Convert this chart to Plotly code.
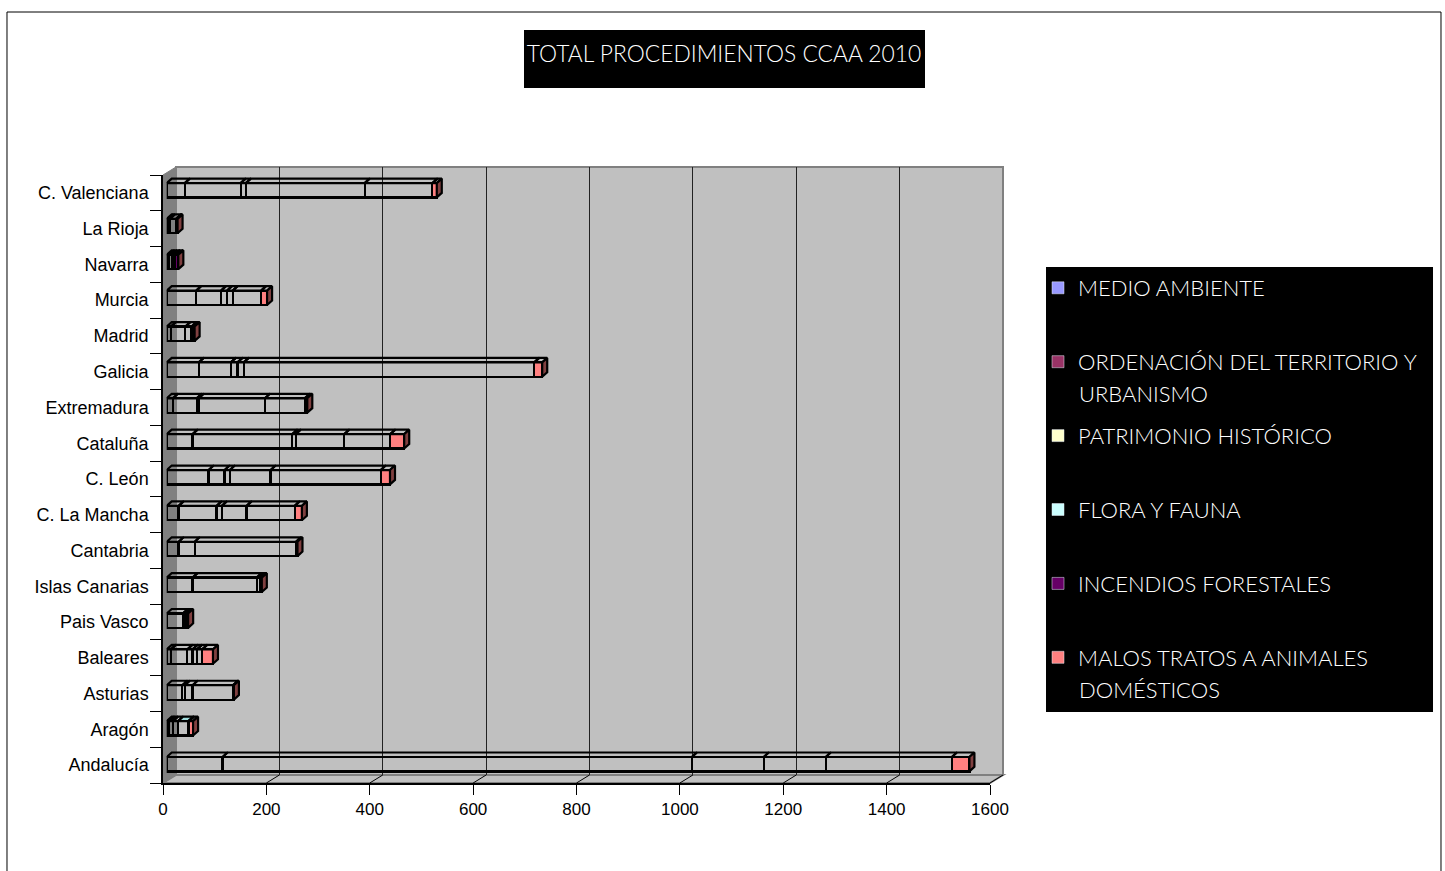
import plotly.graph_objects as go

CATEGORIES = ["Andalucía", "Aragón", "Asturias", "Baleares", "Pais Vasco", "Islas Canarias", "Cantabria",
              "C. La Mancha", "C. León", "Cataluña", "Extremadura", "Galicia", "Madrid", "Murcia",
              "Navarra", "La Rioja", "C. Valenciana"]
SERIES_NAMES = ["MEDIO AMBIENTE", "ORDENACIÓN DEL TERRITORIO Y", "PATRIMONIO HISTÓRICO",
                "FLORA Y FAUNA", "INCENDIOS FORESTALES", "MALOS TRATOS A ANIMALES"]
LEGEND_COLORS = ["#9999FF", "#993366", "#FFFFCC", "#CCFFFF", "#660066", "#FF8080"]
MEDIO_AMBIENTE = [108, 5, 30, 8, 31, 50, 23, 23, 81, 50, 12, 62, 8, 57, 5, 3, 35]
ORDENACION = [908, 7, 5, 32, 2.5, 124, 31, 73.5, 31, 193, 46, 62, 28, 48, 5, 3, 108]
PATRIMONIO = [139, 10, 15, 10, 4, 0, 0, 10, 10, 6.5, 4, 13, 12, 11.6, 5, 12, 10]
FLORA = [120, 20, 78, 8.5, 2, 0, 0, 48, 79, 94, 128, 12, 2, 11, 0.5, 1, 230]
INCENDIOS = [244, 1, 1, 10, 1, 6, 196, 93, 213, 89, 77, 562, 3, 55, 6, 1, 131]
MALOS_TRATOS = [34, 8, 1, 21, 1, 4, 3, 14, 18, 27, 5, 15.5, 1, 11.6, 1, 1, 8.5]
SERIES = [MEDIO_AMBIENTE, ORDENACION, PATRIMONIO, FLORA, INCENDIOS, MALOS_TRATOS]
X_TICKS = [0, 200, 400, 600, 800, 1000, 1200, 1400, 1600]

W, H = 1445, 871
CLEAR = "rgba(0,0,0,0)"
PINK = "#FF8080"
SIDE = "#804040"
TEXT_FONT = "Lato Light, Lato, sans-serif"
AXIS_FONT = "Liberation Sans, Arial, sans-serif"
BAR_LINE = dict(color="black", width=2.2)
def px(x): return x / W
def py(y): return 1 - y / H

fig = go.Figure()
POS = list(range(len(CATEGORIES)))
totals = [sum(s[i] for s in SERIES) for i in POS]

# front-plane axes carry the tick labels
fig.add_trace(go.Scatter(x=totals, y=CATEGORIES, mode="none", xaxis="x", yaxis="y",
                         showlegend=False, hoverinfo="skip"))
# legend-only entries on the back-wall axes (these also make the grid appear)
for k, (name, col) in enumerate(zip(SERIES_NAMES, LEGEND_COLORS)):
    fig.add_trace(go.Bar(x=[None], y=[None], orientation="h", name=name, xaxis="x2", yaxis="y2",
                         marker=dict(color=col), legendgroup=str(k), hoverinfo="skip"))

# front faces of the 3-D bars
DX, DY = 9.7, 0.125   # depth of a bar in axis units
HALF = 0.2
base = [0.0] * len(POS)
for k, vals in enumerate(SERIES):
    if k == 5:
        fills = [PINK] * len(POS)
    elif k == 4:
        fills = ["#660066" if c == "Navarra" else CLEAR for c in CATEGORIES]
    else:
        fills = [CLEAR] * len(POS)
    fig.add_trace(go.Bar(x=vals, y=POS, orientation="h", xaxis="x3", yaxis="y3", showlegend=False,
                         marker=dict(color=fills, line=BAR_LINE), name=SERIES_NAMES[k]))
    xs, ys, cx, cy = [], [], [], []
    for i in POS:
        a, b = base[i], base[i] + vals[i]
        if vals[i] > 0:
            poly_x = [a, b, b + DX, a + DX, a, None]
            poly_y = [i + HALF, i + HALF, i + HALF + DY, i + HALF + DY, i + HALF, None]
            if k == 3 and CATEGORIES[i] == "Aragón":
                cx += poly_x; cy += poly_y
            else:
                xs += poly_x; ys += poly_y
        base[i] = b
    fig.add_trace(go.Scatter(x=xs, y=ys, xaxis="x3", yaxis="y3", mode="lines", fill="toself", fillcolor=CLEAR,
                             line=BAR_LINE, showlegend=False, hoverinfo="skip"))
    if cx:
        fig.add_trace(go.Scatter(x=cx, y=cy, xaxis="x3", yaxis="y3", mode="lines", fill="toself",
                                 fillcolor="#A0DCDC", line=BAR_LINE, showlegend=False, hoverinfo="skip"))
# end faces
sx, sy = [], []
for i in POS:
    e = base[i]
    sx += [e, e + DX, e + DX, e, e, None]
    sy += [i - HALF, i - HALF + DY, i + HALF + DY, i + HALF, i - HALF, None]
fig.add_trace(go.Scatter(x=sx, y=sy, xaxis="x3", yaxis="y3", mode="lines", fill="toself", fillcolor=SIDE,
                         line=BAR_LINE, showlegend=False, hoverinfo="skip"))

def poly(points, fill, line=None, width=0):
    path = "M" + "L".join(f"{px(x):.5f},{py(y):.5f}" for x, y in points) + "Z"
    return dict(type="path", path=path, xref="paper", yref="paper", fillcolor=fill, layer="below",
                line=dict(color=line or fill, width=width))

FX0, FX1, FY0, FY1 = 163, 990, 175, 783     # front plane
BX0, BX1, BY0, BY1 = 176, 1003, 167, 775    # back plane
shapes = [
    poly([(7, 880), (7, 12), (1441, 12), (1441, 880)], "white", "black", 1),
    poly([(BX0, BY0), (BX1, BY0), (BX1, BY1), (BX0, BY1)], "#C0C0C0", "#808080", 2),
    poly([(FX0, FY1), (BX0, BY1), (BX1, BY1), (FX1, FY1)], "#C0C0C0", "#808080", 2),
    poly([(FX0, FY0), (BX0, BY0), (BX0, BY1), (FX0, FY1)], "#808080", "#808080", 1),
    poly([(524, 30), (925, 30), (925, 88), (524, 88)], "black"),
    poly([(1046, 267), (1433, 267), (1433, 712), (1046, 712)], "black"),
]
for t in X_TICKS[1:]:
    x = FX0 + (FX1 - FX0) * t / 1600
    shapes.append(dict(type="line", xref="paper", yref="paper", layer="below", x0=px(x), y0=py(FY1),
                       x1=px(x + BX0 - FX0), y1=py(BY1), line=dict(color="black", width=1)))

LEGEND_FONT = dict(family=TEXT_FONT, size=22, color="white", weight=300)
SECOND_LINES = [("URBANISMO", 393), ("DOMÉSTICOS", 689)]
annotations = [dict(text=t, xref="paper", yref="paper", x=px(1078), y=py(y), xanchor="left", yanchor="middle",
                    showarrow=False, font=LEGEND_FONT, borderpad=0) for t, y in SECOND_LINES]

hidden = dict(visible=False, fixedrange=True)
fig.update_layout(
    width=W, height=H, autosize=False, margin=dict(l=0, r=0, t=0, b=0, pad=0, autoexpand=False),
    paper_bgcolor="white", plot_bgcolor="rgba(0,0,0,0)", barmode="stack", bargap=0.596,
    shapes=shapes, annotations=annotations,
    title=dict(text="TOTAL PROCEDIMIENTOS CCAA 2010", x=724 / W, y=py(54), xref="paper", yref="paper",
               xanchor="center", yanchor="middle",
               font=dict(family=TEXT_FONT, size=22.8, color="white", weight=300)),
    legend=dict(x=px(1038), y=py(267), xanchor="left", yanchor="top",
                bgcolor=CLEAR, tracegroupgap=42.3, font=LEGEND_FONT, itemclick=False, itemdoubleclick=False),
    xaxis=dict(domain=[px(FX0), px(FX1)], range=[0, 1600], tickvals=X_TICKS, ticks="outside", ticklen=10,
               tickcolor="black", showline=True, linecolor="black", linewidth=1.5, showgrid=False, zeroline=False,
               tickfont=dict(family=AXIS_FONT, size=17, color="black"), anchor="y"),
    yaxis=dict(domain=[py(FY1), py(FY0)], type="category", categoryorder="array", categoryarray=CATEGORIES,
               range=[-0.5, 16.5], tickson="boundaries", ticks="outside", ticklen=11, tickcolor="black",
               ticklabelstandoff=9,
               showline=True, linecolor="black", linewidth=1.5, showgrid=False, zeroline=False,
               tickfont=dict(family=AXIS_FONT, size=18, color="black"), anchor="x"),
    xaxis2=dict(domain=[px(BX0), px(BX1)], range=[0, 1600], tickvals=X_TICKS, showticklabels=False, ticks="",
                showgrid=True, gridcolor="#222222", gridwidth=1, zeroline=False, anchor="y2"),
    yaxis2=dict(domain=[py(BY1), py(BY0)], range=[0, 1], showticklabels=False, ticks="", showgrid=False,
                zeroline=False, anchor="x2"),
    xaxis3=dict(domain=[px(166.7), px(993.7)], range=[0, 1600], anchor="y3", **hidden),
    yaxis3=dict(domain=[py(782.1), py(172.3)], range=[-0.5, 16.5], anchor="x3", **hidden),
)
fig.write_html("out.html", config=dict(displayModeBar=False), post_script="document.body.style.margin='0';")
